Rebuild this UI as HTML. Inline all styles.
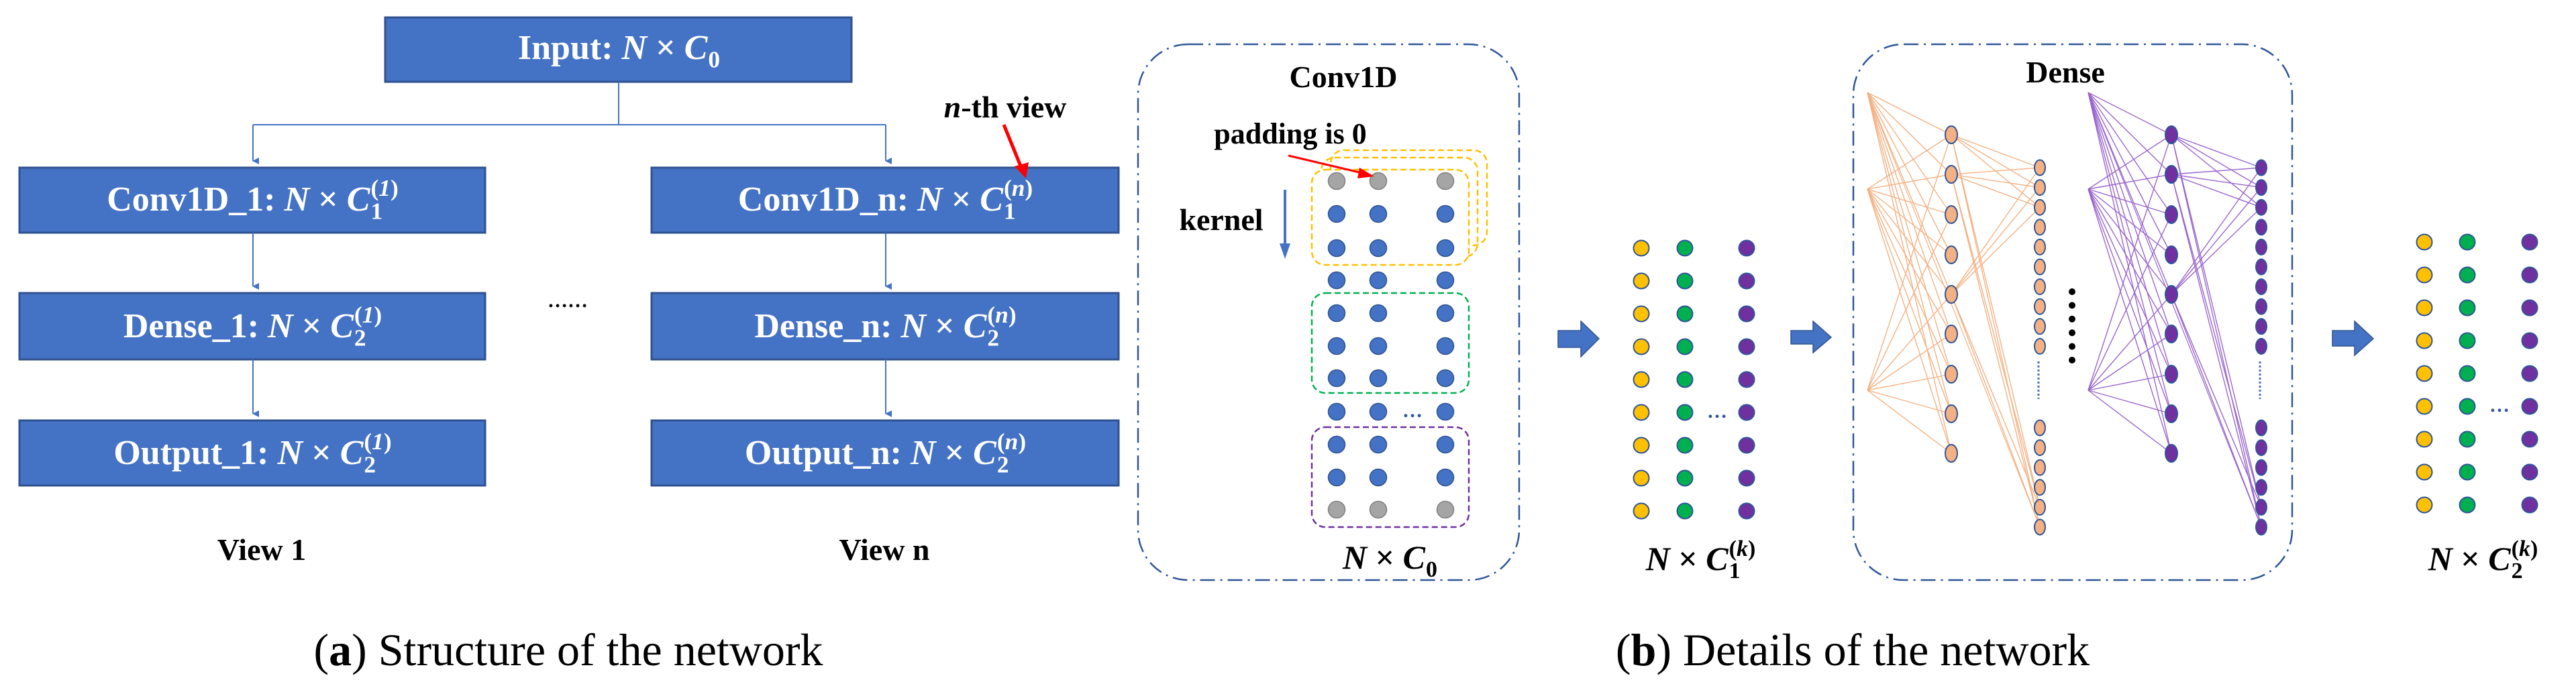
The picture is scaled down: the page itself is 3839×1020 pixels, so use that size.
<!DOCTYPE html>
<html><head><meta charset="utf-8"><style>
html,body{margin:0;padding:0;background:#fff;}
svg{display:block;font-family:"Liberation Serif","Times New Roman",serif;}
svg text{font-family:"Liberation Serif","Times New Roman",serif;}
</style></head><body>
<svg id="s" width="3839" height="1020" viewBox="0 0 3839 1020" xmlns="http://www.w3.org/2000/svg" font-family="Liberation Serif, serif">
<defs>
<marker id="ah" markerWidth="10" markerHeight="10" refX="5" refY="9" orient="auto" markerUnits="userSpaceOnUse"><path d="M0,0 L10,0 L5,10 z" fill="#4472C4"/></marker>
</defs>
<g fill="#4472C4" stroke="#2F528F" stroke-width="3">
<rect x="574" y="26" width="695" height="96"/>
<rect x="29" y="250" width="694" height="97"/>
<rect x="971" y="250" width="696" height="97"/>
<rect x="29" y="437" width="694" height="99"/>
<rect x="971" y="437" width="696" height="99"/>
<rect x="29" y="627" width="694" height="97"/>
<rect x="971" y="627" width="696" height="97"/>
</g>
<g stroke="#4472C4" stroke-width="2" fill="none">
<path d="M922 122 V186 M377 186 H1320"/>
<path d="M377 186 V240" marker-end="url(#ah)"/>
<path d="M1320 186 V240" marker-end="url(#ah)"/>
<path d="M377 347 V427" marker-end="url(#ah)"/>
<path d="M1320 347 V427" marker-end="url(#ah)"/>
<path d="M377 536 V617" marker-end="url(#ah)"/>
<path d="M1320 536 V617" marker-end="url(#ah)"/>
</g>
<text x="846" y="458" font-size="30" font-weight="bold" text-anchor="middle">……</text>
<text x="1498" y="175" font-size="46" font-weight="bold" text-anchor="middle"><tspan font-style="italic">n</tspan>-th view</text>
<path d="M1496 186 L1522 250" stroke="#FF0000" stroke-width="5"/>
<path d="M1512 248 L1529 266 L1533 242 z" fill="#FF0000"/>
<text x="390" y="835" font-size="46" font-weight="bold" text-anchor="middle">View 1</text>
<text x="1318" y="835" font-size="46" font-weight="bold" text-anchor="middle">View n</text>
<text x="847" y="992" font-size="68" text-anchor="middle">(<tspan font-weight="bold">a</tspan>) Structure of the network</text>
<text x="2761" y="992" font-size="68" text-anchor="middle">(<tspan font-weight="bold">b</tspan>) Details of the network</text>

<rect x="1696" y="66" width="568" height="799" rx="75" fill="none" stroke="#2F5597" stroke-width="2.5" stroke-dasharray="22,8,3,8"/>
<text x="2002" y="130" font-size="46" font-weight="bold" text-anchor="middle">Conv1D</text>
<text x="1923" y="214" font-size="44" font-weight="bold" text-anchor="middle">padding is 0</text>
<text x="1820" y="343" font-size="46" font-weight="bold" text-anchor="middle">kernel</text>
<path d="M1915 283 V365" stroke="#4472C4" stroke-width="4"/>
<path d="M1907 363 L1923 363 L1915 386 z" fill="#4472C4"/>
<g fill="none" stroke-width="2.5" stroke-dasharray="9,5">
<rect x="1983" y="224" width="233" height="142" rx="20" stroke="#FFC000"/>
<rect x="1969" y="235" width="233" height="148" rx="20" stroke="#FFC000"/>
<rect x="1955" y="253" width="234" height="142" rx="20" stroke="#FFC000" fill="#fff"/>
<rect x="1955" y="437" width="234" height="149" rx="20" stroke="#00B050"/>
<rect x="1955" y="637" width="234" height="149" rx="20" stroke="#7030A0"/>
</g>
<g id="convdots"></g>
<path d="M1920 232 L2030 258" stroke="#FF0000" stroke-width="3"/>
<path d="M2026 250 L2048 263 L2023 266 z" fill="#FF0000"/>
<text x="2105" y="622" font-size="30" font-weight="bold" fill="#2F5597" text-anchor="middle">…</text>

<g fill="#4472C4" stroke="#2F528F" stroke-width="1.5">
<path d="M2322 493 H2356 V479 L2383 505 L2356 532 V518 H2322 z"/>
<path d="M2669 493 H2702 V479 L2729 503 L2702 526 V513 H2669 z"/>
<path d="M3476 493 H3509 V479 L3537 505 L3509 530 V516 H3476 z"/>
</g>
<g id="grids"></g>

<rect x="2762" y="66" width="654" height="799" rx="75" fill="none" stroke="#2F5597" stroke-width="2.5" stroke-dasharray="22,8,3,8"/>
<text x="3078" y="123" font-size="46" font-weight="bold" text-anchor="middle">Dense</text>
<g id="dense"></g>
<g id="labels"></g>
</svg>
<script>
const NS="http://www.w3.org/2000/svg";
function el(p,t,a){const e=document.createElementNS(NS,t);for(const k in a)e.setAttribute(k,a[k]);p.appendChild(e);return e;}
const cd=document.getElementById('convdots');
const cys=[270,319,370,418,467,516,564,614,663,712,760];
cys.forEach((y,i)=>{[1992,2054,2154].forEach(x=>{const g=(i==0||i==10);
el(cd,'circle',{cx:x,cy:y,r:12.5,fill:g?'#A5A5A5':'#4472C4',stroke:g?'#7F7F7F':'#2F528F','stroke-width':1.5});});});
const gr=document.getElementById('grids');
function grid(xs,y0,dy,dotsx){for(let i=0;i<9;i++){const y=y0+i*dy;
['#FFC000','#00B050','#7030A0'].forEach((c,j)=>el(gr,'circle',{cx:xs[j],cy:y,r:11.5,fill:c,stroke:'#2F5597','stroke-width':2}));}
el(gr,'text',{x:dotsx,y:y0+5*dy+8,'font-size':30,'font-weight':'bold',fill:'#2F5597','text-anchor':'middle'}).textContent='…';}
grid([2446,2511,2603],370,49,2559);
grid([3613,3677,3770],361,49,3725);
const dn=document.getElementById('dense');
const ins=[138,282,582];
const c1=[201,260,320,380,439,498,558,617,676];
const c2=[];for(let i=0;i<10;i++)c2.push(250+i*29.6);for(let i=0;i<6;i++)c2.push(638+i*29.6);
function net(x0,x1,x2,col,fill,stroke){
 ins.forEach((y,a)=>c1.forEach((yy,b)=>{ if(a==0||Math.abs(b-a*4)<=4 || b%2==0) el(dn,'line',{x1:x0,y1:y,x2:x1,y2:yy,stroke:col,'stroke-width':1.4});}));
 [0,1,4].forEach(b=>[0,1,2,15,14].forEach(k=>el(dn,'line',{x1:x1,y1:c1[b],x2:x2,y2:c2[k],stroke:col,'stroke-width':1.4})));
 el(dn,'line',{x1:x0,y1:138,x2:x2,y2:c2[15],stroke:col,'stroke-width':1.2});
 c1.forEach(y=>el(dn,'ellipse',{cx:x1,cy:y,rx:9,ry:13,fill:fill,stroke:stroke,'stroke-width':2}));
 c2.forEach(y=>el(dn,'ellipse',{cx:x2,cy:y,rx:8,ry:11.5,fill:fill,stroke:stroke,'stroke-width':2}));
 el(dn,'line',{x1:x2-2,y1:539,x2:x2-2,y2:595,stroke:'#4472C4','stroke-width':3,'stroke-dasharray':'3,3'});
}
net(2783,2908,3040,'#F4B183','#F4B183','#2F5597');
net(3112,3236,3370,'#9966CC','#7030A0','#2F5597');
for(let i=0;i<6;i++)el(dn,'circle',{cx:3088,cy:435+i*20.4,r:5,fill:'#000'});
const lb=document.getElementById('labels');
function label(cx,y,parts,sup,sub,fs,color,weight){
 const t=el(lb,'text',{x:0,y:y,'font-size':fs,fill:color,'font-weight':weight});
 parts.forEach(p=>{const s=el(t,'tspan',{});if(p[1])s.setAttribute('font-style','italic');s.textContent=p[0];});
 const w=t.getComputedTextLength();
 const ss=fs*0.68;
 const a=el(lb,'text',{x:0,y:y-fs*0.42,'font-size':ss,fill:color,'font-weight':weight});
 if(sup){const sp1=el(a,'tspan',{});sp1.textContent='(';const sp2=el(a,'tspan',{'font-style':'italic'});sp2.textContent=sup;const sp3=el(a,'tspan',{});sp3.textContent=')';}
 const b=el(lb,'text',{x:0,y:y+fs*0.24,'font-size':ss,fill:color,'font-weight':weight});b.textContent=sub;
 const sw=Math.max(sup?a.getComputedTextLength():0,b.getComputedTextLength());
 const x0=cx-(w+sw)/2;
 t.setAttribute('x',x0);a.setAttribute('x',x0+w+1);b.setAttribute('x',x0+w+1);
 if(!sup)a.remove();
}
const W='#fff';
label(922,88,[['Input: '],['N',1],[' × '],['C',1]],null,'0',52,W,'bold');
label(376,314,[['Conv1D_1: '],['N',1],[' × '],['C',1]],'1','1',52,W,'bold');
label(1319,314,[['Conv1D_n: '],['N',1],[' × '],['C',1]],'n','1',52,W,'bold');
label(376,503,[['Dense_1: '],['N',1],[' × '],['C',1]],'1','2',52,W,'bold');
label(1319,503,[['Dense_n: '],['N',1],[' × '],['C',1]],'n','2',52,W,'bold');
label(376,692,[['Output_1: '],['N',1],[' × '],['C',1]],'1','2',52,W,'bold');
label(1319,692,[['Output_n: '],['N',1],[' × '],['C',1]],'n','2',52,W,'bold');
label(2071,848,[['N',1],[' × '],['C',1]],null,'0',50,'#000','bold');
label(2534,850,[['N',1],[' × '],['C',1]],'k','1',50,'#000','bold');
label(3700,850,[['N',1],[' × '],['C',1]],'k','2',50,'#000','bold');
</script>
</body></html>
